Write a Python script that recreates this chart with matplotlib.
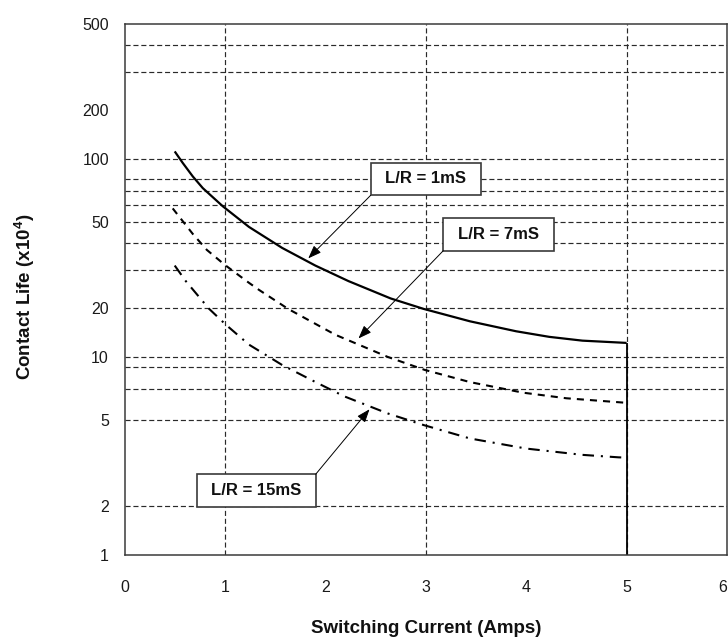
import numpy as np
import matplotlib
matplotlib.use("Agg")
import matplotlib.pyplot as plt
from matplotlib.ticker import FixedLocator, FuncFormatter
from matplotlib.patches import Rectangle

plt.rcParams['font.family'] = ['Liberation Sans', 'DejaVu Sans']
plt.rcParams['mathtext.fontset'] = 'custom'
plt.rcParams['mathtext.rm'] = 'Liberation Sans'
plt.rcParams['mathtext.bf'] = 'Liberation Sans:bold'

# ---- data -------------------------------------------------------------
current_1ms = [0.50, 0.58, 0.68, 0.78, 0.98, 1.24, 1.57, 1.90, 2.23, 2.65,
               2.98, 3.44, 3.90, 4.23, 4.56, 5.00]
life_1ms = [111, 95.5, 82.4, 72.5, 59.4, 47.5, 38.0, 31.5, 26.7, 22.2,
            19.8, 16.6, 14.4, 13.3, 12.6, 12.2]

current_7ms = [0.48, 0.68, 0.82, 1.00, 1.24, 1.34, 1.63, 2.10, 2.62, 2.99,
               3.44, 3.97, 4.40, 5.00]
life_7ms = [58.1, 44.1, 37.2, 31.7, 26.2, 24.3, 19.8, 13.7, 10.0, 8.67,
            7.59, 6.76, 6.36, 6.05]

current_15ms = [0.50, 0.61, 0.84, 1.01, 1.24, 1.57, 1.90, 2.19, 2.62, 2.98,
                3.44, 4.00, 4.56, 4.92, 5.00]
life_15ms = [31.5, 26.7, 19.9, 15.8, 11.9, 9.15, 7.60, 6.49, 5.39, 4.75,
             4.12, 3.70, 3.46, 3.37, 3.36]

curve_labels = ["L/R = 1mS", "L/R = 7mS", "L/R = 15mS"]
# points on each curve that the callout arrows point at
arrow_current = [1.83, 2.33, 2.44]
arrow_life = [34.0, 13.0, 5.64]

x_ticks = [0, 1, 2, 3, 4, 5, 6]
y_ticks = [1, 2, 5, 10, 20, 50, 100, 200, 500]
x_grid = [1, 3, 5]
y_grid = [2, 5, 7, 9, 10, 20, 30, 40, 50, 60, 70, 80, 100, 300, 400]

# ---- chart-paper logarithmic scale ------------------------------------
# each decade is ruled unevenly: 1-2, 2-5 and 5-10 take fixed shares
MANT_LOG = [0.0, np.log10(2), np.log10(5), 1.0]
MANT_PAPER = [0.0, 0.2455, 0.68, 1.0]


def paper_fwd(v):
    v = np.asarray(v, dtype=float)
    lg = np.log10(np.clip(v, 1e-9, None))
    d = np.floor(lg)
    return d + np.interp(lg - d, MANT_LOG, MANT_PAPER)


def paper_inv(p):
    p = np.asarray(p, dtype=float)
    d = np.floor(p)
    return 10.0 ** (d + np.interp(p - d, MANT_PAPER, MANT_LOG))


W, H = 728, 642
fig = plt.figure(figsize=(W / 100, H / 100), dpi=100)
fig.patch.set_facecolor('white')
ax_l, ax_r, ax_t, ax_b = 124.5, 727.0, 24.0, 555.0
ax = fig.add_axes([ax_l / W, (H - ax_b) / H, (ax_r - ax_l) / W, (ax_b - ax_t) / H])

ax.set_yscale('function', functions=(paper_fwd, paper_inv))
ax.set_xlim(0, 6)
ax.set_ylim(1, 500)

ax.xaxis.set_major_locator(FixedLocator(x_ticks))
ax.yaxis.set_major_locator(FixedLocator(y_ticks))
ax.xaxis.set_minor_locator(FixedLocator([]))
ax.yaxis.set_minor_locator(FixedLocator([]))
ax.xaxis.set_major_formatter(FuncFormatter(lambda v, p: f"{v:g}"))
ax.yaxis.set_major_formatter(FuncFormatter(lambda v, p: f"{v:g}"))
ax.tick_params(axis='both', which='both', length=0, labelsize=11.5,
               colors='#1a1a1a')
ax.tick_params(axis='y', pad=11.2)
ax.tick_params(axis='x', pad=18.0)
# the last current label sits on the right border; keep it inside
ax.xaxis.get_major_ticks()[-1].label1.set_horizontalalignment('right')

# dashed rulings
grid_style = dict(color='#2a2a2a', lw=0.85, linestyle=(0, (4.3, 2.4)), zorder=1)
for gy in y_grid:
    ax.axhline(gy, **grid_style)
for gx in x_grid:
    ax.axvline(gx, **grid_style)

for side in ['left', 'top', 'bottom', 'right']:
    ax.spines[side].set_color('#3a3a3a')
    ax.spines[side].set_linewidth(1.1)
    ax.spines[side].set_zorder(3)

# life curves
ax.plot(current_1ms, life_1ms, color='black', lw=1.6, zorder=3,
        solid_capstyle='butt', solid_joinstyle='round')
ax.vlines(current_1ms[-1], 1, life_1ms[-1], color='black', lw=1.3, zorder=3)
ax.plot(current_7ms, life_7ms, color='black', lw=1.5, zorder=3,
        linestyle=(0, (3.4, 2.9)))
ax.plot(current_15ms, life_15ms, color='black', lw=1.5, zorder=3,
        linestyle=(0, (5.5, 3.3, 1.0, 3.3)))

# callout boxes (axes fraction: x0, y0, x1, y1) and arrow tails
boxes = [(0.4086, 0.6774, 0.5912, 0.7388),
         (0.5291, 0.5731, 0.7129, 0.6341),
         (0.1198, 0.0910, 0.3173, 0.1520)]
tails = [(0.4086, 0.6774), (0.5291, 0.5731), (0.3173, 0.1520)]

for label, (x0, y0, x1, y1), tail, tx, ty in zip(curve_labels, boxes, tails,
                                                 arrow_current, arrow_life):
    ax.add_patch(Rectangle((x0, y0), x1 - x0, y1 - y0, transform=ax.transAxes,
                           facecolor='white', edgecolor='#3a3a3a', lw=1.2,
                           zorder=4))
    ax.text((x0 + x1) / 2, (y0 + y1) / 2, label, transform=ax.transAxes,
            ha='center', va='center', fontsize=12, fontweight='bold',
            color='#111111', zorder=5)
    ax.annotate('', xy=(tx, ty), xycoords='data',
                xytext=tail, textcoords='axes fraction',
                arrowprops=dict(arrowstyle='-|>,head_length=0.8,head_width=0.3',
                                color='black', lw=0.7, shrinkA=0, shrinkB=0,
                                mutation_scale=10),
                zorder=5)

ax.set_xlabel('Switching Current (Amps)', fontsize=13.5, fontweight='bold',
              va='center', color='#111111')
ax.xaxis.set_label_coords(0.5, -0.139)
ax.set_ylabel('Contact Life (x10$^{\\mathbf{4}}$)', fontsize=13.5,
              fontweight='bold', va='center', color='#111111')
ax.yaxis.set_label_coords(-0.166, 0.487)

fig.savefig('out.png', dpi=100)
